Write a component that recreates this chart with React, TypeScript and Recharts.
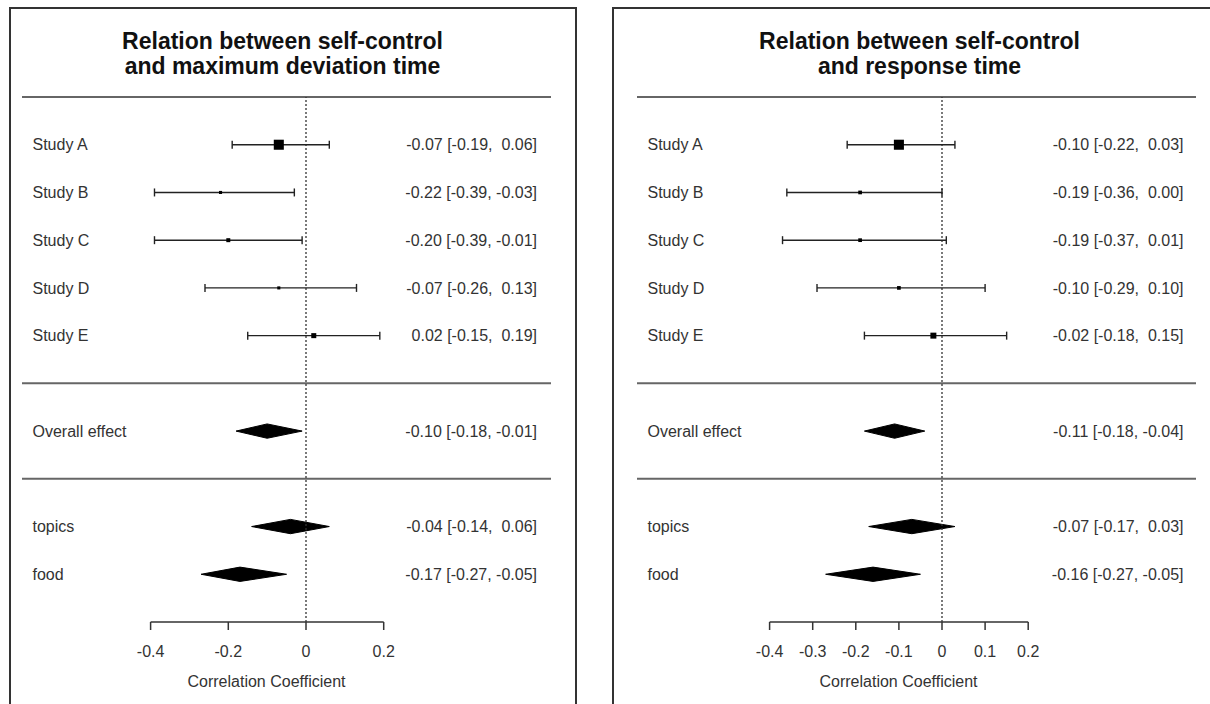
import React from 'react';
import { ScatterChart, Scatter, XAxis, YAxis, ReferenceLine, ReferenceArea, ErrorBar } from 'recharts';

// ---------- data ----------
const studyNames = ['Study A', 'Study B', 'Study C', 'Study D', 'Study E'];
const summaryNames = ['Overall effect', 'topics', 'food'];
const studyRows = [1, 2, 3, 4, 5];
const summaryRows = [7, 9, 10];
const separatorRows = [0, 6, 8];
const axisRow = 11;

const leftTitle = ['Relation between self-control', 'and maximum deviation time'];
const leftEst = [-0.07, -0.22, -0.2, -0.07, 0.02];
const leftLo = [-0.19, -0.39, -0.39, -0.26, -0.15];
const leftHi = [0.06, -0.03, -0.01, 0.13, 0.19];
const leftWeight = [48, 4.5, 7.5, 4.5, 12];
const leftSumEst = [-0.1, -0.04, -0.17];
const leftSumLo = [-0.18, -0.14, -0.27];
const leftSumHi = [-0.01, 0.06, -0.05];
const leftTicks = [-0.4, -0.2, 0, 0.2];

const rightTitle = ['Relation between self-control', 'and response time'];
const rightEst = [-0.1, -0.19, -0.19, -0.1, -0.02];
const rightLo = [-0.22, -0.36, -0.37, -0.29, -0.18];
const rightHi = [0.03, 0.0, 0.01, 0.1, 0.15];
const rightWeight = [48, 6.5, 6.5, 6.5, 17];
const rightSumEst = [-0.11, -0.07, -0.16];
const rightSumLo = [-0.18, -0.17, -0.27];
const rightSumHi = [-0.04, 0.03, -0.05];
const rightTicks = [-0.4, -0.3, -0.2, -0.1, 0, 0.1, 0.2];

const xLabel = 'Correlation Coefficient';

// ---------- helpers ----------
const FONT = '"Liberation Sans", Arial, sans-serif';
const f2 = (v: number) => (v < 0 ? '-' : ' ') + Math.abs(v).toFixed(2);
const ciText = (e: number, l: number, h: number) => `${f2(e).trim()} [${f2(l)}, ${f2(h)}]`;

type Layout = {
  plotLeft: number;
  plotRight: number;
  zeroPx: number;
  pxPerUnit: number;
  labelPad: number;
  valuePad: number;
};

const leftLayout: Layout = { plotLeft: 22, plotRight: 551, zeroPx: 306, pxPerUnit: 388.5, labelPad: 10.5, valuePad: 14 };
const rightLayout: Layout = { plotLeft: 637, plotRight: 1196, zeroPx: 942, pxPerUnit: 431, labelPad: 10.5, valuePad: 12.5 };

const W = 1210;
const H = 704;
const PLOT_TOP = 97;
const PLOT_BOTTOM = 622;
const XAXIS_H = 30;

type ForestProps = {
  est: number[]; lo: number[]; hi: number[]; weight: number[];
  sEst: number[]; sLo: number[]; sHi: number[];
  ticks: number[]; layout: Layout;
};

function Forest({ est, lo, hi, weight, sEst, sLo, sHi, ticks, layout }: ForestProps) {
  const { plotLeft, plotRight, zeroPx, pxPerUnit, labelPad, valuePad } = layout;
  const domain: [number, number] = [(plotLeft - zeroPx) / pxPerUnit, (plotRight - zeroPx) / pxPerUnit];

  const studies = studyNames.map((_, i) => ({
    x: est[i], y: studyRows[i], err: [est[i] - lo[i], hi[i] - est[i]], w: weight[i],
  }));
  const rows = [
    ...studyNames.map((n, i) => ({ y: studyRows[i], name: n, ci: ciText(est[i], lo[i], hi[i]) })),
    ...summaryNames.map((n, i) => ({ y: summaryRows[i], name: n, ci: ciText(sEst[i], sLo[i], sHi[i]) })),
  ];
  const leftText = rows.map((r) => ({ x: domain[0], y: r.y, t: r.name }));
  const rightText = rows.map((r) => ({ x: domain[1], y: r.y, t: r.ci }));

  const Square = (p: any) => {
    const s = 1.45 * Math.sqrt(p.payload.w);
    return <rect x={p.cx - s / 2} y={p.cy - s / 2} width={s} height={s} fill="#000" />;
  };
  const NameText = (p: any) => (
    <text x={p.cx + labelPad} y={p.cy} dy="0.36em" fontSize={16} fontFamily={FONT} fill="#333" textAnchor="start" style={{ whiteSpace: 'pre' }}>
      {p.payload.t}
    </text>
  );
  const CiText = (p: any) => (
    <text x={p.cx - valuePad} y={p.cy} dy="0.36em" fontSize={16} fontFamily={FONT} fill="#333" textAnchor="end" style={{ whiteSpace: 'pre' }}>
      {p.payload.t}
    </text>
  );
  const diamond = (f: number) => (p: any) => {
    const { x, y, width, height } = p;
    const px = x + width * f;
    const pts = `${x},${y + height / 2} ${px},${y} ${x + width},${y + height / 2} ${px},${y + height}`;
    return <polygon points={pts} fill="#000" stroke="#000" strokeWidth={1} />;
  };

  return (
    <div style={{ position: 'absolute', left: 0, top: 0 }}>
      <ScatterChart
        width={W}
        height={H}
        margin={{ top: PLOT_TOP, bottom: H - PLOT_BOTTOM - XAXIS_H, left: plotLeft, right: W - plotRight }}
      >
        <XAxis
          type="number"
          dataKey="x"
          domain={domain}
          ticks={ticks}
          interval={0}
          allowDataOverflow
          height={XAXIS_H}
          axisLine={false}
          tickSize={8}
          tickMargin={16}
          tickLine={{ stroke: '#333', strokeWidth: 1.5 }}
          tick={{ fontSize: 16, fill: '#333', fontFamily: FONT }}
        />
        <YAxis type="number" dataKey="y" domain={[0, axisRow]} reversed hide allowDataOverflow />
        {separatorRows.map((r) => (
          <ReferenceLine key={'s' + r} y={r} stroke="#666" strokeWidth={2} ifOverflow="visible" />
        ))}
        <ReferenceLine x={0} stroke="#333" strokeWidth={1.3} strokeDasharray="2 2" ifOverflow="visible" />
        <ReferenceLine
          segment={[{ x: ticks[0], y: axisRow }, { x: ticks[ticks.length - 1], y: axisRow }]}
          stroke="#333"
          strokeWidth={1.5}
          ifOverflow="visible"
        />
        {sEst.map((e, i) => (
          <ReferenceArea
            key={'d' + i}
            x1={sLo[i]}
            x2={sHi[i]}
            y1={summaryRows[i] - 0.15}
            y2={summaryRows[i] + 0.15}
            ifOverflow="visible"
            shape={diamond((e - sLo[i]) / (sHi[i] - sLo[i]))}
          />
        ))}
        <Scatter data={studies} shape={Square} isAnimationActive={false}>
          <ErrorBar dataKey="err" direction="x" width={4} stroke="#222" strokeWidth={1.4} />
        </Scatter>
        <Scatter data={leftText} shape={NameText} isAnimationActive={false} />
        <Scatter data={rightText} shape={CiText} isAnimationActive={false} />
      </ScatterChart>
    </div>
  );
}

const titleStyle = (cx: number): React.CSSProperties => ({
  position: 'absolute', left: cx - 300, width: 600, top: 28.5, textAlign: 'center',
  fontFamily: FONT, fontWeight: 'bold', fontSize: 23, lineHeight: '25px', color: '#111',
});
const xLabelStyle = (cx: number): React.CSSProperties => ({
  position: 'absolute', left: cx - 200, width: 400, top: 672, textAlign: 'center',
  fontFamily: FONT, fontSize: 16, lineHeight: '20px', color: '#333',
});

export default function App() {
  return (
    <div style={{ position: 'absolute', left: 0, top: 0, width: W, height: H, overflow: 'hidden', background: '#fff' }}>
      <div style={{ position: 'absolute', left: 9, top: 7, width: 568, height: 740, border: '2px solid #333', boxSizing: 'border-box' }} />
      <div style={{ position: 'absolute', left: 612, top: 7, width: 640, height: 740, border: '2px solid #333', boxSizing: 'border-box' }} />
      <div style={titleStyle(282.5)}>{leftTitle[0]}<br />{leftTitle[1]}</div>
      <div style={titleStyle(919.5)}>{rightTitle[0]}<br />{rightTitle[1]}</div>
      <Forest est={leftEst} lo={leftLo} hi={leftHi} weight={leftWeight} sEst={leftSumEst} sLo={leftSumLo} sHi={leftSumHi} ticks={leftTicks} layout={leftLayout} />
      <Forest est={rightEst} lo={rightLo} hi={rightHi} weight={rightWeight} sEst={rightSumEst} sLo={rightSumLo} sHi={rightSumHi} ticks={rightTicks} layout={rightLayout} />
      <div style={xLabelStyle(266.5)}>{xLabel}</div>
      <div style={xLabelStyle(898.5)}>{xLabel}</div>
    </div>
  );
}
